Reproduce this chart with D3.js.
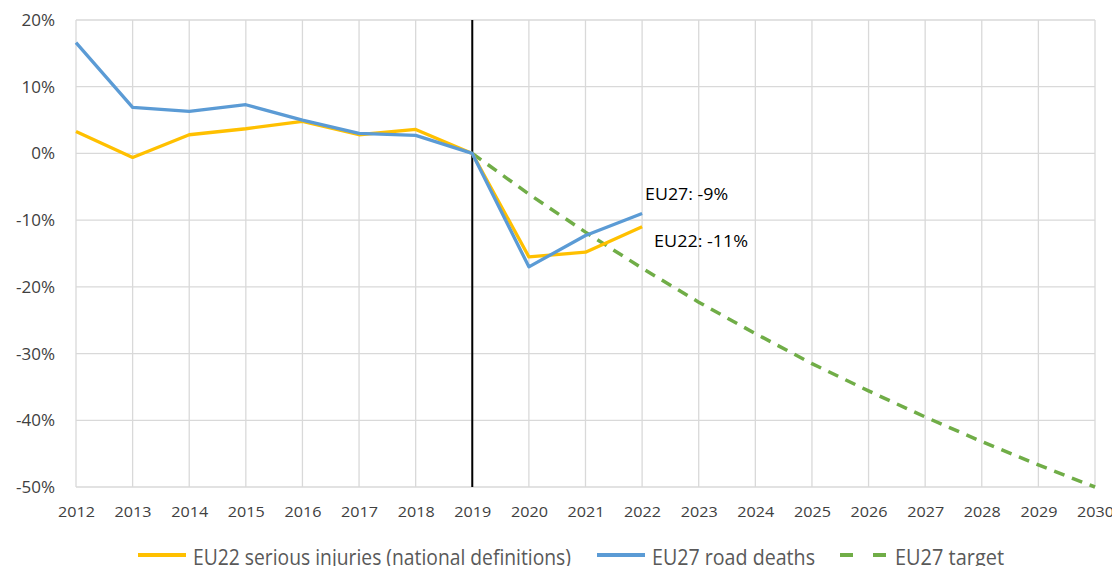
<!DOCTYPE html>
<html>
<head>
<meta charset="utf-8">
<script src="https://cdn.jsdelivr.net/npm/d3@7"></script>
<style>
  body { margin: 0; background: #fff; }
  svg { display: block; }
  svg text { font-family: "Open Sans", "Noto Sans", sans-serif; }
</style>
</head>
<body>
<div id="chart"></div>
<script>
var years = [2012, 2013, 2014, 2015, 2016, 2017, 2018, 2019, 2020, 2021, 2022, 2023, 2024, 2025, 2026, 2027, 2028, 2029, 2030];
var yTicks = [20, 10, 0, -10, -20, -30, -40, -50];

// values in %, relative to 2019
var injuryYears = [2012, 2013, 2014, 2015, 2016, 2017, 2018, 2019, 2020, 2021, 2022];
var injuryValues = [3.3, -0.6, 2.8, 3.7, 4.8, 2.8, 3.6, 0, -15.5, -14.8, -11];

var deathYears = [2012, 2013, 2014, 2015, 2016, 2017, 2018, 2019, 2020, 2021, 2022];
var deathValues = [16.6, 6.9, 6.3, 7.3, 5.0, 3.0, 2.7, 0, -17, -12.3, -9];

var targetYears = [2019, 2020, 2021, 2022, 2023, 2024, 2025, 2026, 2027, 2028, 2029, 2030];
var targetValues = [0, -6.1, -11.8, -17.2, -22.3, -27, -31.5, -35.6, -39.5, -43.2, -46.7, -50];

var labels = [
  {text: "EU27: -9%", year: 2022, value: -9, dx: 3, dy: -13, w: 83},
  {text: "EU22: -11%", year: 2022, value: -11, dx: 12, dy: 20, w: 94}
];

var legendItems = [
  {name: "EU22 serious injuries (national definitions)", color: "#FFC000", dash: null, x: 138, w: 378},
  {name: "EU27 road deaths", color: "#5B9BD5", dash: null, x: 597, w: 163},
  {name: "EU27 target", color: "#70AD47", dash: "13,20", x: 840, w: 109}
];

var width = 1112, height = 566;
var margin = {top: 20, right: 17, bottom: 79, left: 76};

var svg = d3.select("#chart").append("svg")
  .attr("width", width)
  .attr("height", height);

var x = d3.scaleLinear()
  .domain([2012, 2030])
  .range([margin.left, width - margin.right]);

var y = d3.scaleLinear()
  .domain([-50, 20])
  .range([height - margin.bottom, margin.top]);

// grid
svg.append("g")
  .selectAll("line")
  .data(years)
  .enter().append("line")
  .attr("x1", d => x(d)).attr("x2", d => x(d))
  .attr("y1", y(20)).attr("y2", y(-50))
  .attr("stroke", "#d9d9d9")
  .attr("stroke-width", 1.3);

svg.append("g")
  .selectAll("line")
  .data(yTicks)
  .enter().append("line")
  .attr("x1", x(2012)).attr("x2", x(2030))
  .attr("y1", d => y(d)).attr("y2", d => y(d))
  .attr("stroke", "#d9d9d9")
  .attr("stroke-width", 1.3);

// axes
var yAxis = svg.append("g")
  .attr("transform", "translate(" + margin.left + ",0)")
  .call(d3.axisLeft(y).tickValues(yTicks).tickSize(0).tickPadding(21).tickFormat(d => d + "%"));
yAxis.select(".domain").remove();
yAxis.selectAll("text")
  .attr("fill", "#404040")
  .style("font-size", "17px");

var xAxis = svg.append("g")
  .attr("transform", "translate(0," + y(-50) + ")")
  .call(d3.axisBottom(x).tickValues(years).tickSize(0).tickPadding(19).tickFormat(d3.format("d")));
xAxis.select(".domain").remove();
xAxis.selectAll("text")
  .attr("fill", "#404040")
  .style("font-size", "15px")
  .attr("textLength", 37)
  .attr("lengthAdjust", "spacingAndGlyphs");

// 2019 marker
svg.append("line")
  .attr("x1", x(2019)).attr("x2", x(2019))
  .attr("y1", y(20)).attr("y2", y(-50))
  .attr("stroke", "#000")
  .attr("stroke-width", 2);

var line = d3.line()
  .x(d => x(d[0]))
  .y(d => y(d[1]));

svg.append("path")
  .datum(d3.zip(targetYears, targetValues))
  .attr("d", line)
  .attr("fill", "none")
  .attr("stroke", "#70AD47")
  .attr("stroke-width", 3.5)
  .attr("stroke-dasharray", "11,8");

svg.append("path")
  .datum(d3.zip(injuryYears, injuryValues))
  .attr("d", line)
  .attr("fill", "none")
  .attr("stroke", "#FFC000")
  .attr("stroke-width", 3.3)
  .attr("stroke-linejoin", "round");

svg.append("path")
  .datum(d3.zip(deathYears, deathValues))
  .attr("d", line)
  .attr("fill", "none")
  .attr("stroke", "#5B9BD5")
  .attr("stroke-width", 3.3)
  .attr("stroke-linejoin", "round");

// end labels
svg.append("g")
  .selectAll("text")
  .data(labels)
  .enter().append("text")
  .attr("x", d => x(d.year) + d.dx)
  .attr("y", d => y(d.value) + d.dy)
  .attr("fill", "#000")
  .style("font-size", "17px")
  .attr("textLength", d => d.w)
  .attr("lengthAdjust", "spacingAndGlyphs")
  .text(d => d.text);

// legend
var legend = svg.append("g")
  .selectAll("g")
  .data(legendItems)
  .enter().append("g")
  .attr("transform", d => "translate(" + d.x + ",555)");

legend.append("line")
  .attr("x1", 0).attr("x2", 48)
  .attr("y1", 0).attr("y2", 0)
  .attr("stroke", d => d.color)
  .attr("stroke-width", 4)
  .attr("stroke-dasharray", d => d.dash);

legend.append("text")
  .attr("x", 55)
  .attr("y", 10)
  .attr("fill", "#595959")
  .style("font-size", "22px")
  .attr("textLength", d => d.w)
  .attr("lengthAdjust", "spacingAndGlyphs")
  .text(d => d.name);
</script>
</body>
</html>
